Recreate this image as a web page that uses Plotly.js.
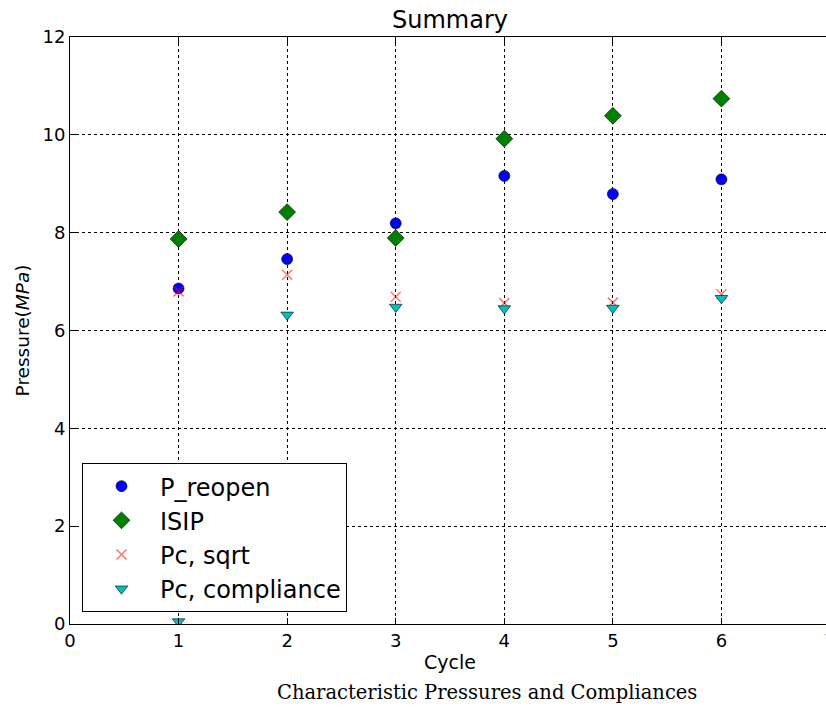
<!DOCTYPE html>
<html><head><meta charset="utf-8">
<script src="https://cdn.plot.ly/plotly-3.0.1.min.js"></script>
<style>html,body{margin:0;padding:0;overflow:hidden;background:#fff}</style>
</head><body>
<div id="chart" style="width:840px;height:709px"></div>
<script>
const cycles = [1, 2, 3, 4, 5, 6];
const pReopen = [6.86, 7.46, 8.19, 9.16, 8.79, 9.09];
const isip = [7.87, 8.42, 7.89, 9.92, 10.39, 10.74];
const pcSqrt = [6.80, 7.14, 6.69, 6.56, 6.57, 6.74];
const pcCompliance = [0.05, 6.32, 6.48, 6.45, 6.46, 6.66];
const xTicks = [0, 1, 2, 3, 4, 5, 6, 7];
const yTicks = [0, 2, 4, 6, 8, 10, 12];

const traces = [
  {x: cycles, y: pReopen, name: 'P_reopen', mode: 'markers', type: 'scatter',
   marker: {symbol: 'circle', size: 11, color: '#0000ff', line: {color: '#000', width: 0.6}}},
  {x: cycles, y: isip, name: 'ISIP', mode: 'markers', type: 'scatter',
   marker: {symbol: 'diamond', size: 13, color: '#008000', line: {color: '#000', width: 0.6}}},
  {x: cycles, y: pcSqrt, name: 'Pc, sqrt', mode: 'markers', type: 'scatter',
   marker: {symbol: 'x-thin', size: 10, color: 'rgba(255,0,0,0.55)', line: {color: 'rgba(255,0,0,0.55)', width: 1.5}}},
  {x: cycles, y: pcCompliance, name: 'Pc, compliance', mode: 'markers', type: 'scatter',
   marker: {symbol: 'triangle-down', size: 11, color: '#00bfbf', line: {color: '#000', width: 0.6}}}
];

const axisCommon = {
  showline: true, linecolor: '#000', linewidth: 1, mirror: 'ticks',
  ticks: 'inside', ticklen: 6, tickcolor: '#000',
  showgrid: true, gridcolor: '#000', gridwidth: 1, griddash: '3px,3px',
  zeroline: false,
  tickfont: {family: 'DejaVu Sans', size: 18, color: '#000'}
};

const layout = {
  width: 840, height: 709,
  margin: {l: 70, r: 10, t: 37, b: 85},
  paper_bgcolor: '#fff', plot_bgcolor: '#fff',
  font: {family: 'DejaVu Sans', color: '#000'},
  title: {text: 'Summary', font: {family: 'DejaVu Sans', size: 24, color: '#000'},
          x: 0.5, xref: 'paper', xanchor: 'center', y: 1 - 20/709, yref: 'container', yanchor: 'middle'},
  xaxis: Object.assign({}, axisCommon, {range: [0, 7], tickvals: xTicks, ticktext: xTicks.map(String),
    title: {text: 'Cycle', font: {family: 'DejaVu Sans', size: 19, color: '#000'}, standoff: 6}}),
  yaxis: Object.assign({}, axisCommon, {range: [0, 12], tickvals: yTicks, ticktext: yTicks.map(String),
    title: {text: 'Pressure(<i>MPa</i>)', font: {family: 'DejaVu Sans', size: 18.5, color: '#000'}, standoff: 8}}),
  showlegend: true,
  legend: {x: 0.0158, y: 0.0204, xanchor: 'left', yanchor: 'bottom',
    bordercolor: '#000', borderwidth: 1, bgcolor: '#fff',
    font: {family: 'DejaVu Sans', size: 24, color: '#000'}, itemwidth: 67, tracegroupgap: 0},
  annotations: [{text: 'Characteristic Pressures and Compliances', xref: 'paper', yref: 'paper',
    x: (487 - 70) / 760, y: -(692 - 624) / 587, xanchor: 'center', yanchor: 'middle', showarrow: false,
    font: {family: 'DejaVu Serif', size: 19.5, color: '#000'}}]
};

Plotly.newPlot('chart', traces, layout, {displayModeBar: false, staticPlot: true});
</script>
</body></html>
